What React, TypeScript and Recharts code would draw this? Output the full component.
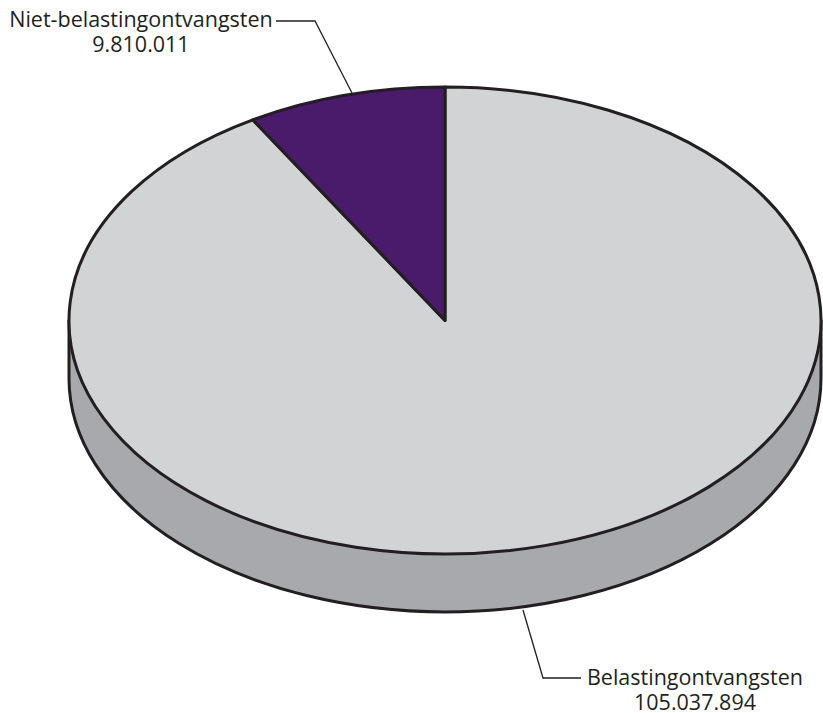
import React from 'react';
import { PieChart, Pie, Cell } from 'recharts';

const categories = ['Belastingontvangsten', 'Niet-belastingontvangsten'];
const values = [105037894, 9810011];
const valueLabels = ['105.037.894', '9.810.011'];
const colors = ['#d1d3d4', '#4a1a6b'];

const WIDTH = 823;
const HEIGHT = 713;
const CX = 445;
const CY = 320.5;
const RX = 376;
const SQUASH = 233.5 / 376;
const DEPTH = 58;
const INK = '#231f20';
const WALL = '#a7a9ac';
const FONT = '"Open Sans", sans-serif';

const data = categories.map((name, i) => ({ name, value: values[i] }));
const wallData = [{ name: 'wall', value: values[0] + values[1] }];

// where the text and leader lines sit, per category
const labelCenter = [695, 141];
const labelBaseline = [685, 27];
const leaders = [
  '523,610 543,678 581,678',
  '352,93 315,21 276,21',
];

const onEllipse = (cx: number, cy: number, r: number, deg: number) => {
  const a = (deg * Math.PI) / 180;
  return [cx + r * Math.cos(a), cy - r * SQUASH * Math.sin(a)];
};

// Recharts gives a circular sector, squash it into an ellipse
const EllipseSector = (props: any) => {
  const { cx, cy, outerRadius: r, startAngle, endAngle, fill } = props;
  const [x1, y1] = onEllipse(cx, cy, r, startAngle);
  const [x2, y2] = onEllipse(cx, cy, r, endAngle);
  const large = Math.abs(startAngle - endAngle) > 180 ? 1 : 0;
  const sweep = startAngle > endAngle ? 1 : 0;
  const d = `M${cx},${cy} L${x1},${y1} A${r},${r * SQUASH} 0 ${large} ${sweep} ${x2},${y2} Z`;
  return <path d={d} fill={fill} stroke={INK} strokeWidth={3} strokeLinejoin="round" />;
};

// the side of the disc, only the front half shows
const WallSector = (props: any) => {
  const { cx, cy, outerRadius: r, startAngle, endAngle } = props;
  const [x1, y1] = onEllipse(cx, cy, r, startAngle);
  const [x2, y2] = onEllipse(cx, cy, r, endAngle);
  const d = `M${x1},${y1} L${x1},${y1 + DEPTH} A${r},${r * SQUASH} 0 0 0 ${x2},${y2 + DEPTH} L${x2},${y2} Z`;
  return <path d={d} fill={WALL} stroke={INK} strokeWidth={3} strokeLinejoin="round" />;
};

const renderLabel = (props: any) => {
  const i = props.index;
  return (
    <g key={categories[i]}>
      <polyline points={leaders[i]} fill="none" stroke={INK} strokeWidth={1.3} />
      <text
        y={labelBaseline[i]}
        textAnchor="middle"
        fontFamily={FONT}
        fontSize={21.5}
        fill={INK}
      >
        <tspan x={labelCenter[i]}>{categories[i]}</tspan>
        <tspan x={labelCenter[i]} dy={25}>{valueLabels[i]}</tspan>
      </text>
    </g>
  );
};

export default function App() {
  return (
    <div style={{ position: 'absolute', left: 0, top: 0, width: WIDTH, height: HEIGHT, background: '#fff' }}>
      <PieChart width={WIDTH} height={HEIGHT} margin={{ top: 0, right: 0, bottom: 0, left: 0 }}>
        <Pie
          data={wallData}
          dataKey="value"
          cx={CX}
          cy={CY}
          outerRadius={RX}
          startAngle={180}
          endAngle={0}
          paddingAngle={0}
          stroke="none"
          shape={WallSector}
          isAnimationActive={false}
        />
        <Pie
          data={data}
          dataKey="value"
          nameKey="name"
          cx={CX}
          cy={CY}
          outerRadius={RX}
          startAngle={90}
          endAngle={-270}
          shape={EllipseSector}
          label={renderLabel}
          labelLine={false}
          isAnimationActive={false}
        >
          {data.map((d, i) => (
            <Cell key={d.name} fill={colors[i]} />
          ))}
        </Pie>
      </PieChart>
    </div>
  );
}
